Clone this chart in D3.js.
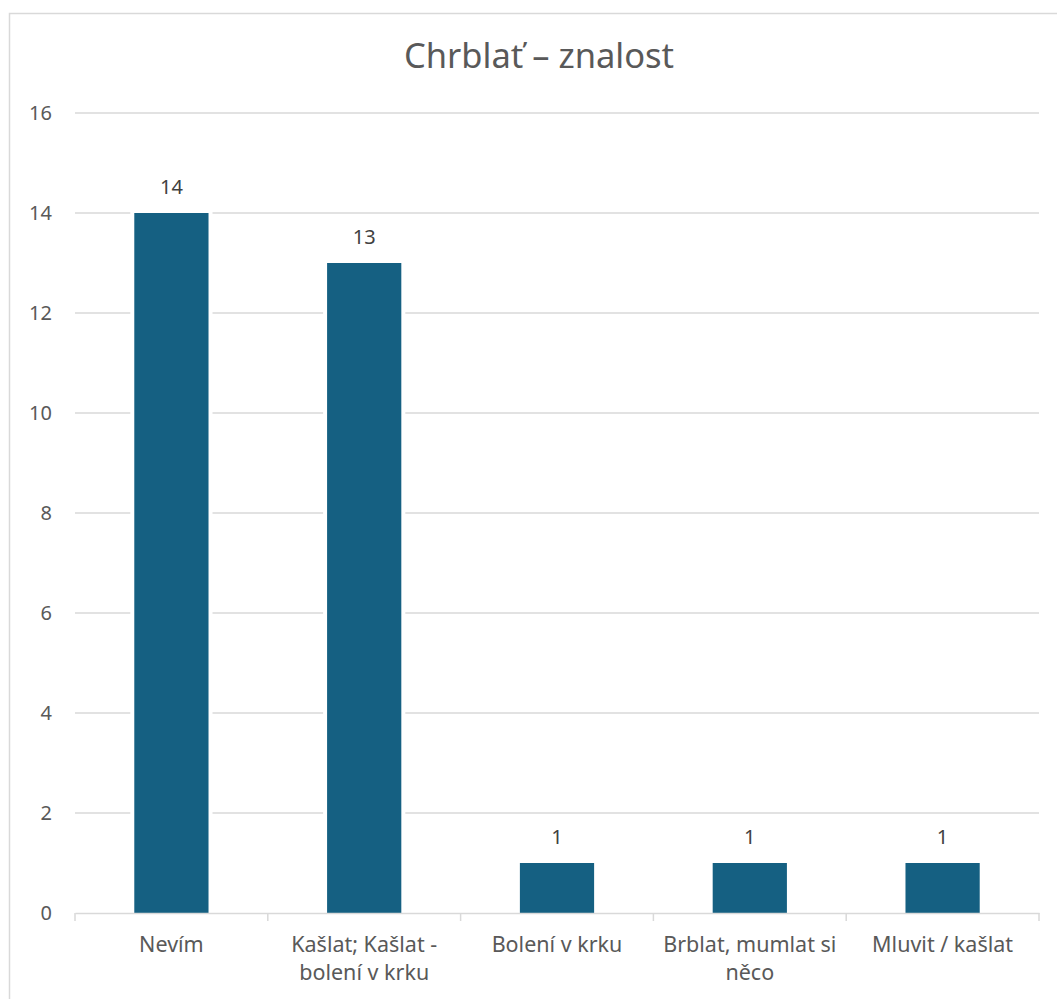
<!DOCTYPE html>
<html><head><meta charset="utf-8">
<script src="https://cdn.jsdelivr.net/npm/d3@7"></script>
<style>body{margin:0;background:#fff}</style>
</head><body>
<script>
const title = "Chrblať – znalost";
const categories = ["Nevím", "Kašlat; Kašlat - bolení v krku", "Bolení v krku", "Brblat, mumlat si něco", "Mluvit / kašlat"];
const categoryLines = [["Nevím"], ["Kašlat; Kašlat -", "bolení v krku"], ["Bolení v krku"], ["Brblat, mumlat si", "něco"], ["Mluvit / kašlat"]];
const values = [14, 13, 1, 1, 1];
const yTicks = [0, 2, 4, 6, 8, 10, 12, 14, 16];

const W = 1057, H = 999;
const FONT = "Noto Sans, sans-serif";
const svg = d3.select("body").append("svg").attr("width", W).attr("height", H);
svg.append("rect").attr("x", 9.5).attr("y", 13.5).attr("width", W + 20).attr("height", H + 20)
  .attr("fill", "#fff").attr("stroke", "#d9d9d9").attr("stroke-width", 1.5);

const pLeft = 75, pRight = 1039, pTop = 113, pBottom = 913;
const x = d3.scaleBand().domain(categories).range([pLeft, pRight]).padding(0);
const y = d3.scaleLinear().domain([0, 16]).range([pBottom, pTop]);
const barW = x.bandwidth() * 0.385;

svg.append("text").attr("x", 539).attr("y", 68).attr("text-anchor", "middle")
  .attr("font-family", FONT).attr("font-size", 34.5).attr("fill", "#595959").text(title);

const grid = svg.append("g");
grid.selectAll("line").data(yTicks.filter(d => d > 0)).join("line")
  .attr("x1", pLeft).attr("x2", pRight).attr("y1", d => y(d)).attr("y2", d => y(d))
  .attr("stroke", "#d9d9d9").attr("stroke-width", 1.5);

const yAxis = svg.append("g").attr("transform", `translate(${pLeft},0)`)
  .call(d3.axisLeft(y).tickValues(yTicks).tickSize(0).tickPadding(23));
yAxis.select(".domain").remove();
yAxis.selectAll("text").attr("font-family", FONT).attr("font-size", 20).attr("fill", "#595959");

const bx = (i) => x(categories[i]) + (x.bandwidth() - barW) / 2;
svg.append("g").selectAll("rect").data(values).join("rect")
  .attr("x", (d, i) => bx(i) - 4).attr("width", barW + 8)
  .attr("y", d => y(d) - 1).attr("height", d => y(0) - y(d))
  .attr("fill", "#fff");
svg.append("g").selectAll("rect").data(values).join("rect")
  .attr("x", (d, i) => bx(i)).attr("width", barW)
  .attr("y", d => y(d)).attr("height", d => y(0) - y(d))
  .attr("fill", "#156082");

svg.append("g").selectAll("text").data(values).join("text")
  .attr("x", (d, i) => x(categories[i]) + x.bandwidth() / 2)
  .attr("y", d => y(d) - 19)
  .attr("text-anchor", "middle")
  .attr("font-family", FONT).attr("font-size", 20).attr("fill", "#404040")
  .text(d => d);

const xAxis = svg.append("g").attr("transform", `translate(0,${pBottom})`)
  .call(d3.axisBottom(x).tickSize(0).tickFormat(""));
xAxis.select(".domain").attr("stroke", "#d9d9d9").attr("stroke-width", 1.5);
xAxis.selectAll(".tick").remove();
const bounds = [pLeft].concat(categories.map(c => x(c) + x.bandwidth()));
xAxis.selectAll("line.sep").data(bounds).join("line").attr("class", "sep")
  .attr("x1", d => d).attr("x2", d => d).attr("y1", 0).attr("y2", 8)
  .attr("stroke", "#d9d9d9").attr("stroke-width", 1.5);

const lab = svg.append("g").selectAll("text").data(categoryLines).join("text")
  .attr("x", (d, i) => x(categories[i]) + x.bandwidth() / 2)
  .attr("y", 952)
  .attr("text-anchor", "middle")
  .attr("font-family", FONT).attr("font-size", 21.5).attr("fill", "#595959");
lab.selectAll("tspan").data(d => d).join("tspan")
  .attr("x", function() { return this.parentNode.getAttribute("x"); })
  .attr("dy", (d, j) => j === 0 ? 0 : 28).text(d => d);
</script>
</body></html>
